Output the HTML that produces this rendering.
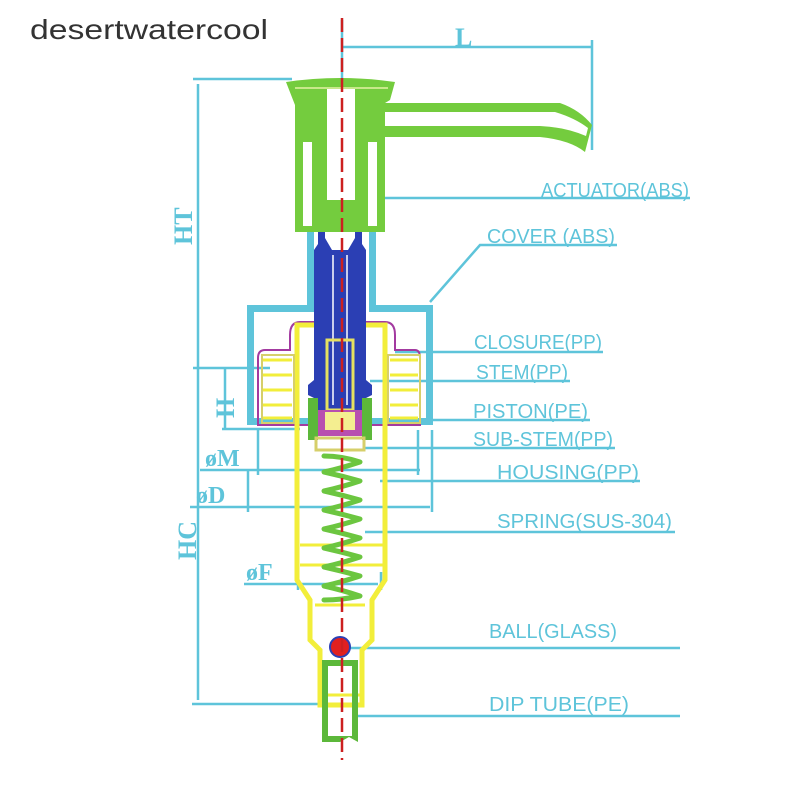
<!DOCTYPE html>
<html><head><style>
html,body{margin:0;padding:0;background:#fff;width:800px;height:800px;overflow:hidden}
</style></head><body>
<svg width="800" height="800" viewBox="0 0 800 800" xmlns="http://www.w3.org/2000/svg">
<rect width="800" height="800" fill="#fff"/>
<text x="30" y="39" font-family="Liberation Sans, sans-serif" font-size="28" fill="#333" textLength="238" lengthAdjust="spacingAndGlyphs">desertwatercool</text>

<g stroke="#5ec4da" stroke-width="2.5" fill="none">
  <line x1="342" y1="47" x2="592" y2="47"/>
  <line x1="592" y1="40" x2="592" y2="150"/>
  <line x1="342" y1="20" x2="342" y2="82"/>
  <line x1="193" y1="79" x2="292" y2="79"/>
  <line x1="198" y1="84" x2="198" y2="700"/>
  <line x1="193" y1="368" x2="270" y2="368"/>
  <line x1="225" y1="368" x2="225" y2="428"/>
  <line x1="222" y1="429" x2="300" y2="429"/>
  <line x1="200" y1="470" x2="420" y2="470"/>
  <line x1="258" y1="430" x2="258" y2="475"/>
  <line x1="418" y1="430" x2="418" y2="475"/>
  <line x1="190" y1="507" x2="430" y2="507"/>
  <line x1="248" y1="470" x2="248" y2="512"/>
  <line x1="432" y1="430" x2="432" y2="512"/>
  <line x1="244" y1="584" x2="378" y2="584"/>
  <line x1="298" y1="572" x2="298" y2="590"/>
  <line x1="381" y1="572" x2="381" y2="590"/>
  <line x1="192" y1="704" x2="320" y2="704"/>
  <line x1="375" y1="198" x2="690" y2="198"/>
  <polyline points="430,302 480,245 617,245"/>
  <line x1="395" y1="352" x2="603" y2="352"/>
  <line x1="370" y1="381" x2="570" y2="381"/>
  <line x1="370" y1="420" x2="590" y2="420"/>
  <line x1="365" y1="448" x2="615" y2="448"/>
  <line x1="380" y1="481" x2="640" y2="481"/>
  <line x1="365" y1="532" x2="675" y2="532"/>
  <line x1="342" y1="648" x2="680" y2="648"/>
  <line x1="352" y1="716" x2="680" y2="716"/>
</g>
<g font-family="Liberation Serif, serif" font-weight="bold" fill="#5ec4da" font-size="26">
  <text x="455" y="46">L</text>
  <text transform="translate(192,245) rotate(-90)">HT</text>
  <text transform="translate(234,418) rotate(-90)">H</text>
  <text transform="translate(196,560) rotate(-90)">HC</text>
  <text x="205" y="466" font-size="24">øM</text>
  <text x="196" y="503" font-size="24">øD</text>
  <text x="246" y="580" font-size="24">øF</text>
</g>
<g font-family="Liberation Sans, sans-serif" fill="#5ec4da" font-size="20">
  <text x="541" y="197" textLength="148" lengthAdjust="spacingAndGlyphs">ACTUATOR(ABS)</text>
  <text x="487" y="243" textLength="128" lengthAdjust="spacingAndGlyphs">COVER (ABS)</text>
  <text x="474" y="349" textLength="128" lengthAdjust="spacingAndGlyphs">CLOSURE(PP)</text>
  <text x="476" y="379" textLength="92" lengthAdjust="spacingAndGlyphs">STEM(PP)</text>
  <text x="473" y="418" textLength="115" lengthAdjust="spacingAndGlyphs">PISTON(PE)</text>
  <text x="473" y="446" textLength="140" lengthAdjust="spacingAndGlyphs">SUB-STEM(PP)</text>
  <text x="497" y="479" textLength="142" lengthAdjust="spacingAndGlyphs">HOUSING(PP)</text>
  <text x="497" y="528" textLength="175" lengthAdjust="spacingAndGlyphs">SPRING(SUS-304)</text>
  <text x="489" y="638" textLength="128" lengthAdjust="spacingAndGlyphs">BALL(GLASS)</text>
  <text x="489" y="711" textLength="140" lengthAdjust="spacingAndGlyphs">DIP TUBE(PE)</text>
</g>

<path d="M307,215 H376 V305 H433 V425 H247 V305 H307 Z M314,222 V312 H254 V418 H426 V312 H369 V222 Z" fill="#5ec4da" fill-rule="evenodd"/>

<path d="M290,335 Q290,322 300,322 H385 Q395,322 395,335 V350 H415 Q420,350 420,358 V425 H258 V358 Q258,350 265,350 H290 Z" fill="none" stroke="#a33aa0" stroke-width="2"/>

<path d="M297,325 H385 V580 L372,600 V640 L362,650 V705 H320 V650 L310,640 V600 L297,580 Z" fill="none" stroke="#f2ee3a" stroke-width="5"/>
<g stroke="#f2ee3a" stroke-width="3" fill="none">
  <path d="M262,360 H292 M262,375 H292 M262,390 H292 M262,405 H292 M262,418 H292"/>
  <path d="M390,360 H418 M390,375 H418 M390,390 H418 M390,405 H418 M390,418 H418"/>
  <line x1="300" y1="545" x2="383" y2="545"/>
  <line x1="300" y1="565" x2="383" y2="565"/>
  <line x1="315" y1="605" x2="365" y2="605"/>
  <line x1="322" y1="695" x2="360" y2="695"/>
</g>
<rect x="262" y="355" width="32" height="68" fill="none" stroke="#d6cf6a" stroke-width="2"/>
<rect x="388" y="355" width="32" height="68" fill="none" stroke="#d6cf6a" stroke-width="2"/>

<path d="M318,200 H362 V244 L366,250 V380 L372,385 V395 L366,398 V410 H314 V398 L308,395 V385 L314,380 V250 L318,244 Z" fill="#2b3fb4"/>
<path d="M325,204 H355 V238 L348,250 H332 L325,238 Z" fill="#fff"/>
<line x1="333" y1="255" x2="333" y2="405" stroke="#fff" stroke-width="1.5"/>
<line x1="347" y1="255" x2="347" y2="405" stroke="#fff" stroke-width="1.5"/>
<rect x="327" y="340" width="26" height="70" fill="none" stroke="#e6e060" stroke-width="3"/>

<rect x="315" y="410" width="50" height="26" fill="#b84fb0"/>
<rect x="325" y="412" width="30" height="18" fill="#f4ee90"/>
<path d="M308,398 H318 V440 H308 Z M362,398 H372 V440 H362 Z" fill="#5cb83a"/>
<rect x="316" y="438" width="48" height="12" fill="none" stroke="#d6cf6a" stroke-width="3"/>

<g fill="none" stroke="#6cc640" stroke-width="5" stroke-linejoin="round" stroke-linecap="round">
<path d="M324,456 Q342,456 360,462 Q342,468 324,472 Q342,476 360,481 Q342,487 324,491 Q342,495 360,500 Q342,506 324,510 Q342,514 360,519 Q342,525 324,529 Q342,533 360,538 Q342,544 324,548 Q342,552 360,557 Q342,563 324,567 Q342,571 360,576 Q342,582 324,586 Q342,590 360,596 Q342,600 324,600"/>
</g>

<path d="M286,82 Q340,74 395,82 L390,100 L385,103 H560 Q580,110 592,125 L585,152 Q570,140 540,137 H385 V232 H295 V105 Z" fill="#74cc3e"/>
<path d="M385,112 H555 Q575,118 588,128 L586,136 Q565,127 540,126 H385 Z" fill="#fff"/>
<path d="M327,88 H355 V200 H327 Z" fill="#fff"/>
<rect x="303" y="142" width="9" height="84" fill="#fff"/>
<rect x="368" y="142" width="9" height="84" fill="#fff"/>
<line x1="295" y1="88" x2="388" y2="88" stroke="#c8e88a" stroke-width="2"/>

<circle cx="340" cy="647" r="10" fill="#e02020" stroke="#2b3fb4" stroke-width="2"/>
<path d="M322,660 H358 V742 L349,737 L340,742 H322 Z M328,666 V736 H352 V666 Z" fill="#5cb83a" fill-rule="evenodd"/>

<line x1="342" y1="18" x2="342" y2="760" stroke="#cc2020" stroke-width="2.5" stroke-dasharray="14,6"/>
</svg>
</body></html>
